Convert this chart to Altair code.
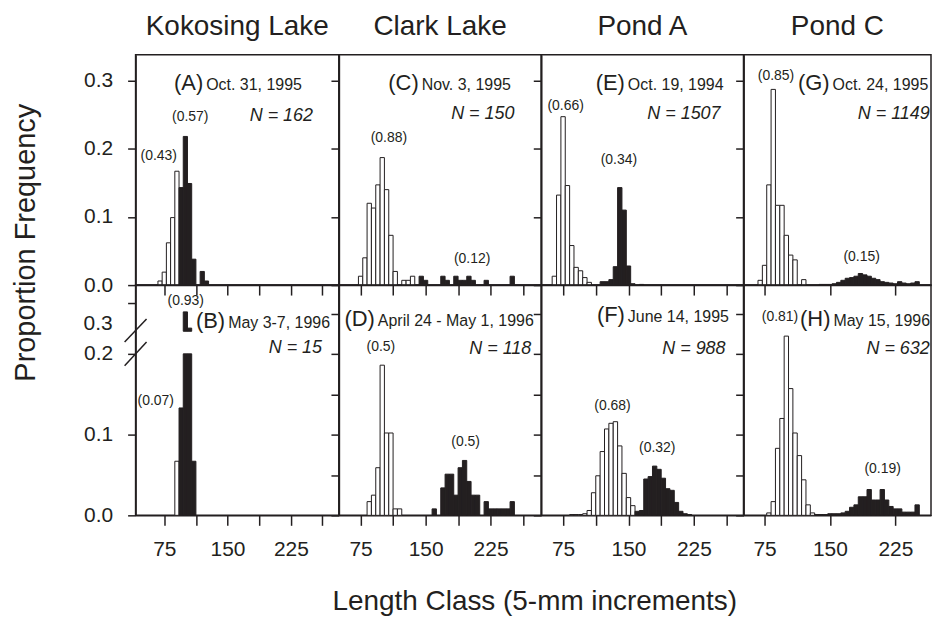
import altair as alt
import pandas as pd

INK = "#231f20"
FONT = "Liberation Sans"

# ---------------- data ----------------
lakes = ["Kokosing Lake", "Clark Lake", "Pond A", "Pond C"]
top_keys = ["A", "C", "E", "G"]
bottom_keys = ["B", "D", "F", "H"]

# length-class centres (mm) and proportion frequencies; white = smaller cohort, black = larger cohort
A_white_len = [70, 75, 80, 85, 90]
A_white = [0.006, 0.019, 0.062, 0.099, 0.167]
A_black_len = [95, 100, 105, 110, 120, 125]
A_black = [0.143, 0.218, 0.149, 0.038, 0.020, 0.006]

B_white_len = [90]
B_white = [0.067]
B_black_len = [95, 100, 105, 110]
B_black = [0.133, 0.400, 0.333, 0.067]

C_white_len = [75, 80, 85, 90, 95, 100, 105, 110, 115, 125, 130, 135]
C_white = [0.013, 0.040, 0.120, 0.113, 0.147, 0.187, 0.140, 0.073, 0.020, 0.007, 0.007, 0.013]
C_black_len = [145, 150, 170, 175, 185, 190, 195, 200, 205, 220, 250]
C_black = [0.013, 0.007, 0.013, 0.007, 0.013, 0.007, 0.007, 0.013, 0.007, 0.007, 0.013]

D_white_len = [85, 90, 95, 100, 105, 110, 115, 120]
D_white = [0.017, 0.025, 0.059, 0.186, 0.102, 0.102, 0.008, 0.008]
D_black_len = [160, 170, 175, 180, 185, 190, 195, 200, 205, 210, 220, 225, 230, 235, 240, 245, 250]
D_black = [0.008, 0.034, 0.051, 0.051, 0.025, 0.059, 0.068, 0.042, 0.025, 0.025, 0.017,
           0.008, 0.008, 0.008, 0.008, 0.008, 0.017]

E_white_len = [65, 70, 75, 80, 85, 90, 95, 100, 105]
E_white = [0.013, 0.132, 0.247, 0.146, 0.058, 0.026, 0.021, 0.011, 0.004]
E_black_len = [120, 125, 130, 135, 140, 145, 150, 155, 165]
E_black = [0.005, 0.005, 0.008, 0.027, 0.143, 0.110, 0.028, 0.002, 0.001]

F_white_len = [85, 90, 95, 100, 105, 110, 115, 120, 125, 130, 135, 140, 145, 150, 155]
F_white = [0.001, 0.001, 0.001, 0.002, 0.006, 0.028, 0.049, 0.079, 0.107, 0.114, 0.116,
           0.086, 0.052, 0.022, 0.012]
F_black_len = [160, 165, 170, 175, 180, 185, 190, 195, 200, 205, 210, 215, 220]
F_black = [0.005, 0.006, 0.045, 0.048, 0.061, 0.057, 0.046, 0.033, 0.031, 0.016, 0.005, 0.002, 0.001]

G_white_len = [70, 75, 80, 85, 90, 95, 100, 105, 110, 120]
G_white = [0.007, 0.029, 0.147, 0.287, 0.117, 0.117, 0.073, 0.044, 0.037, 0.008]
G_black_len = [140, 145, 150, 155, 160, 165, 170, 175, 180, 185, 190, 195, 200, 205, 210,
               215, 220, 225, 230, 235, 240, 245, 250]
G_black = [0.001, 0.001, 0.001, 0.002, 0.004, 0.007, 0.010, 0.011, 0.013, 0.017, 0.015,
           0.013, 0.010, 0.008, 0.005, 0.004, 0.003, 0.002, 0.005, 0.003, 0.002, 0.003, 0.005]

H_white_len = [80, 85, 90, 95, 100, 105, 110, 115, 120, 125, 130]
H_white = [0.003, 0.017, 0.083, 0.120, 0.222, 0.157, 0.102, 0.074, 0.044, 0.013, 0.003]
H_black_len = [135, 140, 145, 150, 155, 160, 165, 170, 175, 180, 185, 190, 195, 200, 205,
               210, 215, 220, 225, 230, 235, 240, 245, 250]
H_black = [0.001, 0.001, 0.001, 0.002, 0.002, 0.002, 0.003, 0.005, 0.010, 0.013, 0.023,
           0.023, 0.032, 0.019, 0.019, 0.032, 0.019, 0.011, 0.008, 0.008, 0.004, 0.004, 0.004, 0.013]

hist = {
    "A": (A_white_len, A_white, A_black_len, A_black),
    "B": (B_white_len, B_white, B_black_len, B_black),
    "C": (C_white_len, C_white, C_black_len, C_black),
    "D": (D_white_len, D_white, D_black_len, D_black),
    "E": (E_white_len, E_white, E_black_len, E_black),
    "F": (F_white_len, F_white, F_black_len, F_black),
    "G": (G_white_len, G_white, G_black_len, G_black),
    "H": (H_white_len, H_white, H_black_len, H_black),
}

panel_tags = {"A": "(A)", "B": "(B)", "C": "(C)", "D": "(D)",
              "E": "(E)", "F": "(F)", "G": "(G)", "H": "(H)"}
panel_dates = {"A": "Oct. 31, 1995", "B": "May 3-7, 1996", "C": "Nov. 3, 1995",
               "D": "April 24 - May 1, 1996", "E": "Oct. 19, 1994", "F": "June 14, 1995",
               "G": "Oct. 24, 1995", "H": "May 15, 1996"}
panel_n = {"A": "N = 162", "B": "N = 15", "C": "N = 150", "D": "N = 118",
           "E": "N = 1507", "F": "N = 988", "G": "N = 1149", "H": "N = 632"}
# (x of date start in mm, baseline proportion)
date_pos = {"A": (124.7, 0.2865), "C": (145.5, 0.2865), "E": (149.3, 0.2865), "G": (153.0, 0.2865),
            "B": (150.7, 0.232), "D": (94.9, 0.235), "F": (149.3, 0.239), "H": (154.0, 0.235)}
n_pos = {"A": (251.3, 0.240), "C": (252.6, 0.243), "E": (255.6, 0.243), "G": (264.5, 0.243),
         "B": (262.0, 0.201), "D": (272.0, 0.200), "F": (261.3, 0.200), "H": (264.5, 0.200)}
cohort_labels = {
    "A": [("(0.57)", 105.8, 0.247), ("(0.43)", 68.5, 0.189)],
    "C": [("(0.88)", 107.6, 0.215), ("(0.12)", 203.7, 0.038)],
    "E": [("(0.66)", 77.9, 0.262), ("(0.34)", 139.0, 0.183)],
    "G": [("(0.85)", 88.1, 0.306), ("(0.15)", 186.4, 0.041)],
    "B": [("(0.93)", 100.4, 0.265), ("(0.07)", 64.9, 0.141)],
    "D": [("(0.5)", 98.4, 0.209), ("(0.5)", 196.2, 0.091)],
    "F": [("(0.68)", 131.6, 0.136), ("(0.32)", 183.0, 0.083)],
    "H": [("(0.81)", 92.7, 0.246), ("(0.19)", 210.4, 0.058)],
}

x_ticks = [75, 112.5, 150, 187.5, 225, 262.5]
x_tick_labels = [75, 150, 225]
y_ticks_top = [0, 0.05, 0.1, 0.15, 0.2, 0.25, 0.3]
y_ticks_bottom = [0, 0.05, 0.1, 0.15, 0.2, 0.25]
y_ticks_broken = [0, 0.05, 0.1, 0.15, 0.2, 0.237, 0.263]
broken_label = ("0.3", 0.237)   # label shown above the axis break in panel B

BIN = 5.0
CLIP = 0.2          # panel B: axis broken above 0.2
STUB_BASE = 0.228
STUB_SCALE = 0.3
STUB_REF = 0.32

X_DOMAINS = [[41, 282], [50, 283.5], [50, 282], [51, 265.9]]
WIDTHS = [204, 203, 203, 188]
Y_DOMAINS = [[0, 0.3377], [0, 0.2852]]
HEIGHT = 231


def bars_df(key):
    wl, wv, bl, bv = hist[key]
    df = pd.DataFrame({
        "len": list(wl) + list(bl),
        "p": list(wv) + list(bv),
        "grp": ["white"] * len(wl) + ["black"] * len(bl),
    })
    df["lo"] = df["len"] - BIN / 2
    df["hi"] = df["len"] + BIN / 2
    df["base"] = 0.0
    df["shown"] = df["p"].clip(upper=CLIP) if key == "B" else df["p"]
    return df


def x_axis(row, key):
    if row == 0:
        return alt.Axis(values=x_ticks, labels=False, tickSize=10, title=None, grid=False)
    expr = " || ".join(f"datum.value == {v}" for v in x_tick_labels)
    kw = dict(values=x_ticks, labelExpr=f"({expr}) ? format(datum.value, 'd') : ''",
              tickSize=10, labelPadding=13, grid=False, labelFlush=False, labelOverlap=False)
    if key == "D":
        kw.update(title="Length Class (5-mm increments)", titleX=196, titleY=86,
                  titleBaseline="middle", titleAlign="center", titleAngle=0, titleFontSize=28)
    else:
        kw.update(title=None)
    return alt.Axis(**kw)


def y_axis(row, col, key):
    if key == "B":
        vals = y_ticks_broken
    else:
        vals = y_ticks_top if row == 0 else y_ticks_bottom
    kw = dict(values=vals, tickSize=8, grid=False)
    if col == 0:
        lab = "round(datum.value*1000) % 100 == 0 ? format(datum.value, '.1f') : ''"
        kw.update(labelExpr=lab, labelPadding=15, labelFlush=False, labelOverlap=False)
        if key == "A":
            kw.update(title="Proportion Frequency", titleX=-110, titleY=188, titleAngle=270,
                      titleBaseline="middle", titleAlign="center")
        else:
            kw.update(title=None)
    else:
        kw.update(labels=False, title=None)
    return alt.Axis(**kw)


def panel(key, row, col):
    xs = alt.Scale(domain=X_DOMAINS[col], nice=False, zero=False)
    ys = alt.Scale(domain=Y_DOMAINS[row], nice=False)
    df = bars_df(key)

    bars = alt.Chart(df).mark_bar(stroke=INK, strokeWidth=1).encode(
        x=alt.X("lo:Q", scale=xs, axis=x_axis(row, key)),
        x2="hi:Q",
        y=alt.Y("shown:Q", scale=ys, axis=y_axis(row, col, key)),
        y2="base:Q",
        fill=alt.Fill("grp:N", scale=alt.Scale(domain=["white", "black"], range=["white", INK]),
                      legend=None),
    )
    layers = [bars]

    if key == "B":
        over = df[df["p"] > CLIP].copy()
        over["bot"] = STUB_BASE
        over["top"] = STUB_BASE + (over["p"] - STUB_REF) * STUB_SCALE
        stub = alt.Chart(over).mark_bar(fill=INK, stroke=INK, strokeWidth=1).encode(
            x=alt.X("lo:Q", scale=xs), x2="hi:Q",
            y=alt.Y("top:Q", scale=ys), y2="bot:Q")
        layers.append(stub)
        one = pd.DataFrame({"k": [0]})
        for y_a, y_b in [(57, 34), (81, 57)]:
            layers.append(alt.Chart(one).mark_rule(color=INK, strokeWidth=1.5).encode(
                x=alt.value(-11), x2=alt.value(11), y=alt.value(y_a), y2=alt.value(y_b)))
        brk = pd.DataFrame({"t": [broken_label[0]], "y": [broken_label[1]]})
        layers.append(alt.Chart(brk).mark_text(align="right", baseline="middle", font=FONT,
                                               fontSize=21, color=INK).encode(
            x=alt.value(-23), y=alt.Y("y:Q", scale=ys), text="t:N"))

    dx, dy = date_pos[key]
    nx, ny = n_pos[key]
    t_date = pd.DataFrame({"x": [dx], "y": [dy], "t": [panel_dates[key]]})
    t_tag = pd.DataFrame({"x": [dx], "y": [dy], "t": [panel_tags[key]]})
    t_n = pd.DataFrame({"x": [nx], "y": [ny], "t": [panel_n[key]]})
    t_c = pd.DataFrame(cohort_labels[key], columns=["t", "x", "y"])

    def txt(frame, **mk):
        return alt.Chart(frame).mark_text(color=INK, **mk).encode(
            x=alt.X("x:Q", scale=xs), y=alt.Y("y:Q", scale=ys), text="t:N")

    layers.append(txt(t_tag, align="right", baseline="alphabetic", font=FONT, fontSize=22, dx=-3))
    layers.append(txt(t_date, align="left", baseline="alphabetic", font=FONT, fontSize=16))
    layers.append(txt(t_n, align="right", baseline="alphabetic", font=FONT, fontSize=18,
                      fontStyle="italic"))
    layers.append(txt(t_c, align="center", baseline="middle", font=FONT, fontSize=14))

    props = dict(width=WIDTHS[col], height=HEIGHT)
    if row == 0:
        props["title"] = alt.TitleParams(lakes[col], offset=14, fontSize=28, font=FONT,
                                         fontWeight="normal", color=INK)
    return alt.layer(*layers).properties(**props)


panels = [panel(k, 0, i) for i, k in enumerate(top_keys)] + \
         [panel(k, 1, i) for i, k in enumerate(bottom_keys)]

chart = alt.concat(*panels, columns=4, spacing=0, bounds="flush").properties(
    padding={"left": 3, "top": 3, "right": 0, "bottom": 0}
).configure_view(
    stroke=INK, strokeWidth=1.5
).configure_axis(
    labelFont=FONT, labelFontSize=21, labelColor=INK,
    tickColor=INK, tickWidth=1.5, domainColor=INK, domainWidth=1.5,
    titleFont=FONT, titleFontSize=29, titleFontWeight="normal", titleColor=INK,
).configure_title(font=FONT, fontWeight="normal", color=INK)

chart.save("out.html", embed_options={"renderer": "svg", "actions": False})
